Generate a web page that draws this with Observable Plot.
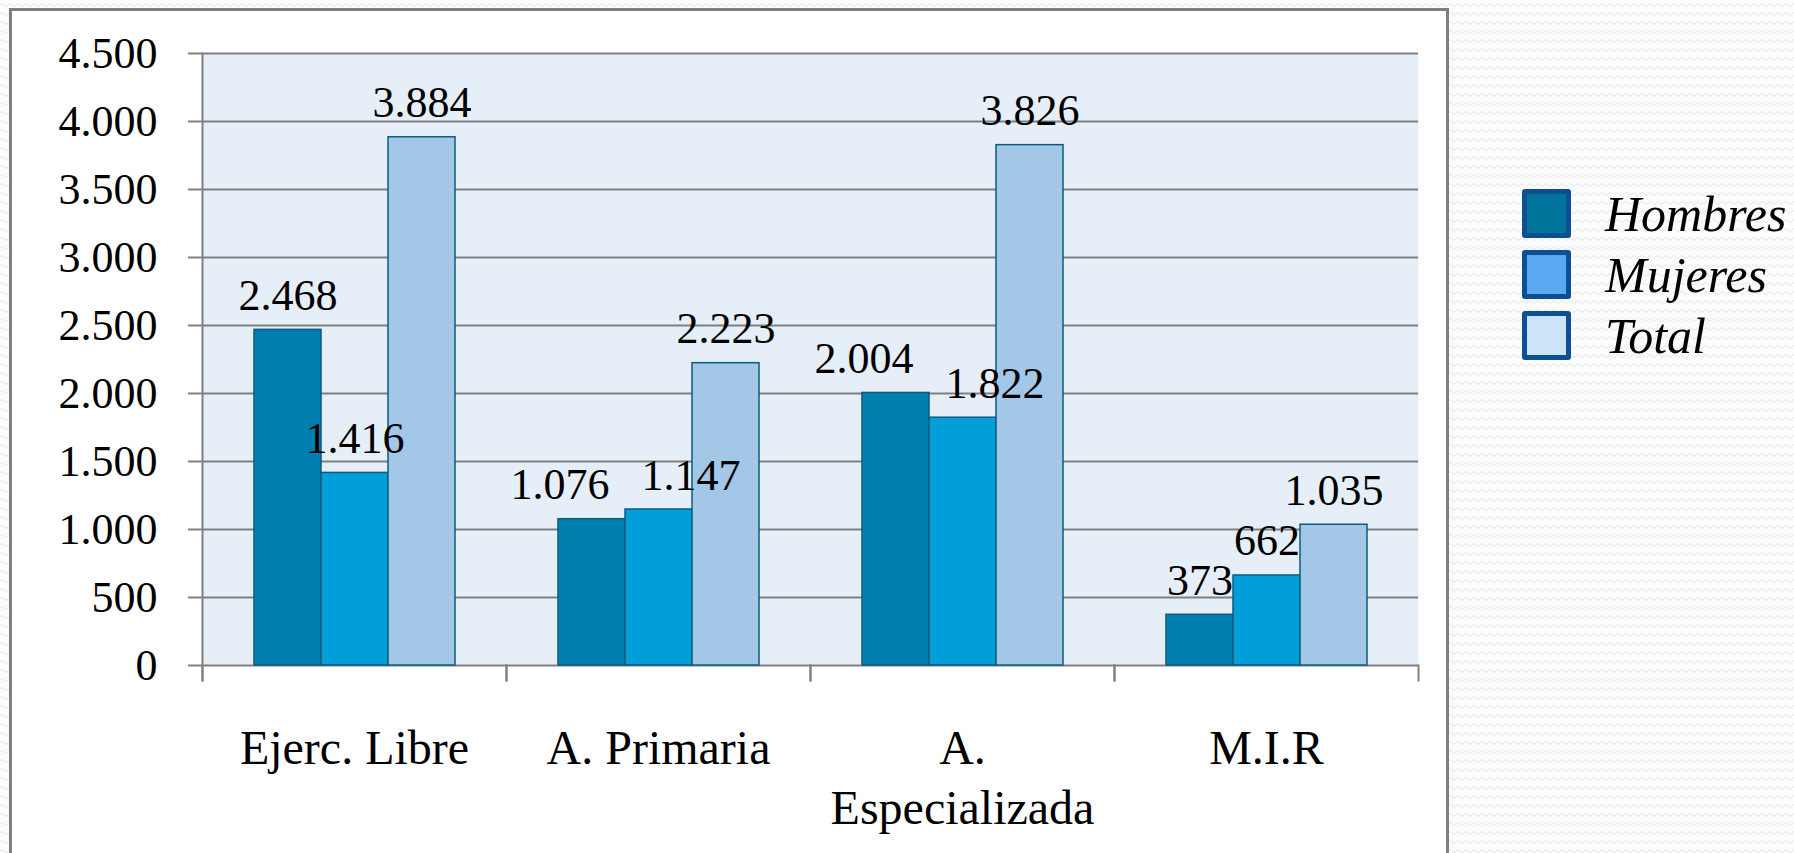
<!DOCTYPE html>
<html>
<head>
<meta charset="utf-8">
<script src="https://cdn.jsdelivr.net/npm/d3@7"></script>
<script src="https://cdn.jsdelivr.net/npm/@observablehq/plot@0.6"></script>
<style>
  html, body { margin: 0; padding: 0; width: 1794px; height: 853px; overflow: hidden; }
  body {
    background-color: #fbfbfb;
    background-image: url("data:image/svg+xml;utf8,<svg xmlns='http://www.w3.org/2000/svg' width='8' height='9'><path d='M0 5 Q2 2 4 5 T8 5' fill='none' stroke='%23e6e6e6' stroke-width='1'/></svg>");
    font-family: "Liberation Serif", serif;
    position: relative;
  }
  #box {
    position: absolute; left: 9px; top: 8px; width: 1434px; height: 900px;
    background: #fff; border: 3px solid #7f7f7f;
  }
  #chart { position: absolute; left: 0; top: 0; }
  .leg-sw { position: absolute; left: 1522px; width: 39px; height: 39px; border: 5px solid #0d4f93; border-radius: 3px; }
  .leg-tx { position: absolute; left: 1605px; font-size: 50px; font-style: italic; line-height: 49px; color: #000; white-space: nowrap; }
</style>
</head>
<body>
<div id="box"></div>
<div id="chart"></div>
<div id="legend"></div>
<script>
// ---- data ----
const categories = ["Ejerc. Libre", "A. Primaria", "A. Especializada", "M.I.R"];
const categoryLabels = ["Ejerc. Libre", "A. Primaria", "A.\nEspecializada", "M.I.R"];
const series = ["Hombres", "Mujeres", "Total"];
const hombres = [2468, 1076, 2004, 373];
const mujeres = [1416, 1147, 1822, 662];
const total = [3884, 2223, 3826, 1035];
const yTicks = [0, 500, 1000, 1500, 2000, 2500, 3000, 3500, 4000, 4500];
const barColors = ["#007fb1", "#009fd9", "#a2c7e7"];
const legendColors = ["#00739b", "#5aa8ef", "#cde4f8"];

// ---- build table ----
const valuesBySeries = [hombres, mujeres, total];
const rows = [];
categories.forEach((c, i) => {
  // labels of neighbouring bars with close values are pushed apart (as the original does)
  const close = Math.abs(hombres[i] - mujeres[i]) < 250;
  series.forEach((s, j) => rows.push({
    cat: c, series: s, value: valuesBySeries[j][i],
    shift: close ? (j === 0 ? -1 : j === 1 ? 1 : 0) : 0
  }));
});
const catRows = categories.map((c, i) => ({cat: c, label: categoryLabels[i]}));

const esLocale = d3.formatLocale({decimal: ",", thousands: ".", grouping: [3], currency: ["", " €"]});
const fmt = esLocale.format(",");

const W = 1794, H = 853;
const mL = 200, mR = 375, mT = 53, mB = 188;
const plotH = H - mT - mB;
const grid = "#808080";

const labelMark = (shift) => Plot.text(rows.filter(d => d.shift === shift), {
  fx: "cat", x: "series", y: "value", text: d => fmt(d.value),
  dy: -20, dx: shift * 32, lineAnchor: "bottom", fontSize: 44, fill: "#000"
});

const chart = Plot.plot({
  width: W, height: H,
  marginLeft: mL, marginRight: mR, marginTop: mT, marginBottom: mB,
  style: {background: "transparent", fontFamily: "'Liberation Serif', serif", fontSize: "44px", color: "#000", overflow: "visible"},
  fx: {domain: categories, paddingInner: 0, paddingOuter: 0, axis: null, label: null},
  x: {domain: series, paddingInner: 0, paddingOuter: 0.74, axis: null, label: null},
  y: {domain: [0, 4500], axis: null, label: null},
  color: {domain: series, range: barColors},
  marks: [
    Plot.frame({fill: "#e6eef8", stroke: "none"}),
    Plot.ruleY(yTicks, {stroke: grid, strokeWidth: 2}),
    Plot.frame({anchor: "left", insetTop: plotH, insetBottom: -15, stroke: grid, strokeWidth: 2}),
    Plot.frame({anchor: "right", insetTop: plotH, insetBottom: -15, stroke: grid, strokeWidth: 2}),
    Plot.frame({anchor: "left", insetBottom: -15, stroke: grid, strokeWidth: 2, facetAnchor: "left"}),
    Plot.axisY(yTicks, {tickSize: 14, tickPadding: 31, tickFormat: fmt, stroke: grid, strokeWidth: 2, fill: "#000", fontSize: 44, label: null, facetAnchor: "left"}),
    Plot.barY(rows, {fx: "cat", x: "series", y: "value", fill: "series", stroke: "#0d5b7f", strokeWidth: 1.5}),
    labelMark(-1), labelMark(0), labelMark(1),
    Plot.text(catRows, {fx: "cat", text: "label", frameAnchor: "bottom", lineAnchor: "top", dy: 56, fontSize: 48, lineHeight: 1.25, fill: "#000"})
  ]
});
document.getElementById("chart").appendChild(chart);

// ---- legend ----
const legend = document.getElementById("legend");
series.forEach((s, i) => {
  const top = 189 + i * 61;
  const sw = document.createElement("div");
  sw.className = "leg-sw";
  sw.style.top = top + "px";
  sw.style.background = legendColors[i];
  legend.appendChild(sw);
  const tx = document.createElement("div");
  tx.className = "leg-tx";
  tx.style.top = (top + 1) + "px";
  tx.textContent = s;
  legend.appendChild(tx);
});
</script>
</body>
</html>
